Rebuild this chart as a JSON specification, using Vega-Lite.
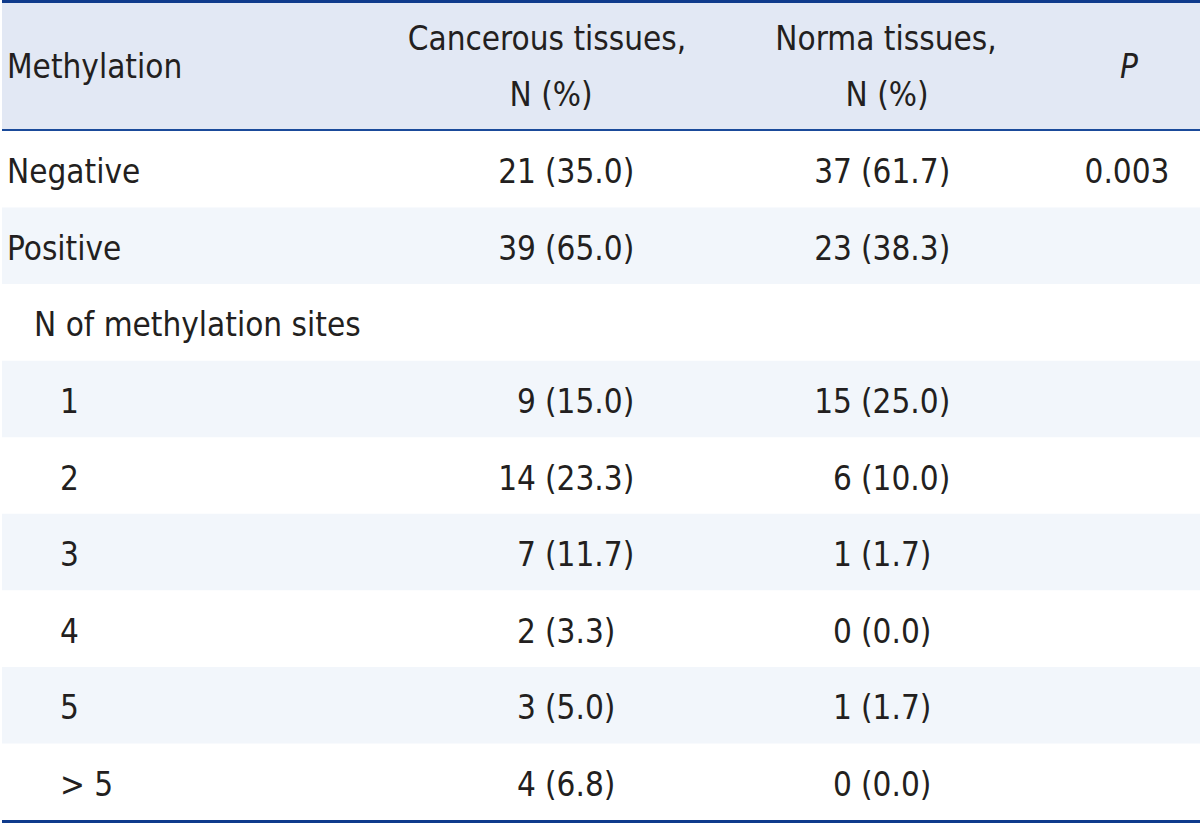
{
  "$schema": "https://vega.github.io/schema/vega-lite/v6.json",
  "padding": 0,
  "spacing": 0,
  "background": "white",
  "config": {
    "view": {"stroke": null},
    "concat": {"spacing": 0},
    "text": {"font": "DejaVu Sans Condensed, DejaVu Sans, sans-serif", "fontSize": 33, "color": "#231f20"}
  },
  "datasets": {
    "rows": [
      {"label": "Negative", "level": 0, "cancer_n": 21, "cancer_pct": 35.0, "normal_n": 37, "normal_pct": 61.7, "p": 0.003},
      {"label": "Positive", "level": 0, "cancer_n": 39, "cancer_pct": 65.0, "normal_n": 23, "normal_pct": 38.3, "p": null},
      {"label": "N of methylation sites", "level": 1, "cancer_n": null, "cancer_pct": null, "normal_n": null, "normal_pct": null, "p": null},
      {"label": "1", "level": 2, "cancer_n": 9, "cancer_pct": 15.0, "normal_n": 15, "normal_pct": 25.0, "p": null},
      {"label": "2", "level": 2, "cancer_n": 14, "cancer_pct": 23.3, "normal_n": 6, "normal_pct": 10.0, "p": null},
      {"label": "3", "level": 2, "cancer_n": 7, "cancer_pct": 11.7, "normal_n": 1, "normal_pct": 1.7, "p": null},
      {"label": "4", "level": 2, "cancer_n": 2, "cancer_pct": 3.3, "normal_n": 0, "normal_pct": 0.0, "p": null},
      {"label": "5", "level": 2, "cancer_n": 3, "cancer_pct": 5.0, "normal_n": 1, "normal_pct": 1.7, "p": null},
      {"label": "> 5", "level": 2, "cancer_n": 4, "cancer_pct": 6.8, "normal_n": 0, "normal_pct": 0.0, "p": null}
    ],
    "header": [
      {"col": "Methylation", "line": "single", "text": "Methylation"},
      {"col": "Cancerous", "line": "top", "text": "Cancerous tissues,"},
      {"col": "Cancerous", "line": "bottom", "text": "N (%)"},
      {"col": "Normal", "line": "top", "text": "Norma tissues,"},
      {"col": "Normal", "line": "bottom", "text": "N (%)"},
      {"col": "P", "line": "single", "text": "P"}
    ]
  },
  "vconcat": [
    {
      "width": 1200,
      "height": 131,
      "data": {"name": "header"},
      "layer": [
        {
          "data": {"values": [{}]},
          "mark": {"type": "rect", "fill": "#e2e8f4"},
          "encoding": {
            "x": {"datum": 0, "type": "quantitative", "scale": {"domain": [0, 1200], "nice": false}, "axis": null},
            "x2": {"datum": 1200},
            "y": {"datum": 0, "type": "quantitative", "scale": {"domain": [0, 131], "nice": false, "reverse": true}, "axis": null},
            "y2": {"datum": 131}
          }
        },
        {
          "data": {"values": [{}]},
          "mark": {"type": "rule", "stroke": "#0f3b8c", "strokeWidth": 3},
          "encoding": {
            "x": {"datum": 0, "type": "quantitative"},
            "x2": {"datum": 1200},
            "y": {"datum": 1.5, "type": "quantitative"}
          }
        },
        {
          "data": {"values": [{}]},
          "mark": {"type": "rule", "stroke": "#1a4a9a", "strokeWidth": 2},
          "encoding": {
            "x": {"datum": 0, "type": "quantitative"},
            "x2": {"datum": 1200},
            "y": {"datum": 130, "type": "quantitative"}
          }
        },
        {
          "transform": [{"filter": "datum.col == 'Methylation'"}],
          "mark": {"type": "text", "align": "left", "baseline": "alphabetic"},
          "encoding": {
            "x": {"datum": 5, "type": "quantitative"},
            "y": {"datum": 78, "type": "quantitative"},
            "text": {"field": "text"}
          }
        },
        {
          "transform": [{"filter": "datum.col == 'Cancerous' && datum.line == 'top'"}],
          "mark": {"type": "text", "align": "center", "baseline": "alphabetic"},
          "encoding": {
            "x": {"datum": 545, "type": "quantitative"},
            "y": {"datum": 50, "type": "quantitative"},
            "text": {"field": "text"}
          }
        },
        {
          "transform": [{"filter": "datum.col == 'Cancerous' && datum.line == 'bottom'"}],
          "mark": {"type": "text", "align": "center", "baseline": "alphabetic"},
          "encoding": {
            "x": {"datum": 549, "type": "quantitative"},
            "y": {"datum": 106, "type": "quantitative"},
            "text": {"field": "text"}
          }
        },
        {
          "transform": [{"filter": "datum.col == 'Normal' && datum.line == 'top'"}],
          "mark": {"type": "text", "align": "center", "baseline": "alphabetic"},
          "encoding": {
            "x": {"datum": 884, "type": "quantitative"},
            "y": {"datum": 50, "type": "quantitative"},
            "text": {"field": "text"}
          }
        },
        {
          "transform": [{"filter": "datum.col == 'Normal' && datum.line == 'bottom'"}],
          "mark": {"type": "text", "align": "center", "baseline": "alphabetic"},
          "encoding": {
            "x": {"datum": 885, "type": "quantitative"},
            "y": {"datum": 106, "type": "quantitative"},
            "text": {"field": "text"}
          }
        },
        {
          "transform": [{"filter": "datum.col == 'P'"}],
          "mark": {"type": "text", "align": "center", "baseline": "alphabetic", "fontStyle": "italic"},
          "encoding": {
            "x": {"datum": 1127, "type": "quantitative"},
            "y": {"datum": 78, "type": "quantitative"},
            "text": {"field": "text"}
          }
        }
      ]
    },
    {
      "width": 1200,
      "height": 689,
      "data": {"name": "rows"},
      "encoding": {
        "y": {
          "field": "label",
          "type": "nominal",
          "sort": null,
          "scale": {
            "domain": ["Negative", "Positive", "N of methylation sites", "1", "2", "3", "4", "5", "> 5"],
            "paddingInner": 0,
            "paddingOuter": 0
          },
          "axis": null
        }
      },
      "layer": [
        {
          "transform": [
            {"window": [{"op": "row_number", "as": "i"}]},
            {"filter": "datum.i % 2 == 0"}
          ],
          "mark": {"type": "rect", "fill": "#f2f6fb"},
          "encoding": {
            "x": {"datum": 0, "type": "quantitative", "scale": {"domain": [0, 1200], "nice": false}, "axis": null},
            "x2": {"datum": 1200}
          }
        },
        {
          "transform": [{"filter": "datum.level == 0"}],
          "mark": {"type": "text", "align": "left", "baseline": "middle", "dy": 4},
          "encoding": {
            "x": {"datum": 5, "type": "quantitative"},
            "text": {"field": "label"}
          }
        },
        {
          "transform": [{"filter": "datum.level == 1"}],
          "mark": {"type": "text", "align": "left", "baseline": "middle", "dy": 4},
          "encoding": {
            "x": {"datum": 32, "type": "quantitative"},
            "text": {"field": "label"}
          }
        },
        {
          "transform": [{"filter": "datum.level == 2"}],
          "mark": {"type": "text", "align": "left", "baseline": "middle", "dy": 4},
          "encoding": {
            "x": {"datum": 58, "type": "quantitative"},
            "text": {"field": "label"}
          }
        },
        {
          "transform": [{"filter": "datum.cancer_n != null"}],
          "mark": {"type": "text", "align": "right", "baseline": "middle", "dy": 4},
          "encoding": {
            "x": {"datum": 534, "type": "quantitative"},
            "text": {"field": "cancer_n", "type": "quantitative", "format": "d"}
          }
        },
        {
          "transform": [
            {"filter": "datum.cancer_pct != null"},
            {"calculate": "'(' + format(datum.cancer_pct, '.1f') + ')'", "as": "cancer_pct_txt"}
          ],
          "mark": {"type": "text", "align": "left", "baseline": "middle", "dy": 4},
          "encoding": {
            "x": {"datum": 543, "type": "quantitative"},
            "text": {"field": "cancer_pct_txt"}
          }
        },
        {
          "transform": [{"filter": "datum.normal_n != null"}],
          "mark": {"type": "text", "align": "right", "baseline": "middle", "dy": 4},
          "encoding": {
            "x": {"datum": 850, "type": "quantitative"},
            "text": {"field": "normal_n", "type": "quantitative", "format": "d"}
          }
        },
        {
          "transform": [
            {"filter": "datum.normal_pct != null"},
            {"calculate": "'(' + format(datum.normal_pct, '.1f') + ')'", "as": "normal_pct_txt"}
          ],
          "mark": {"type": "text", "align": "left", "baseline": "middle", "dy": 4},
          "encoding": {
            "x": {"datum": 859, "type": "quantitative"},
            "text": {"field": "normal_pct_txt"}
          }
        },
        {
          "transform": [{"filter": "datum.p != null"}],
          "mark": {"type": "text", "align": "center", "baseline": "middle", "dy": 4},
          "encoding": {
            "x": {"datum": 1125, "type": "quantitative"},
            "text": {"field": "p", "type": "quantitative", "format": ".3f"}
          }
        }
      ]
    },
    {
      "width": 1200,
      "height": 3,
      "data": {"values": [{}]},
      "mark": {"type": "rect", "fill": "#0f3b8c"},
      "encoding": {
        "x": {"datum": 0, "type": "quantitative", "scale": {"domain": [0, 1200], "nice": false}, "axis": null},
        "x2": {"datum": 1200},
        "y": {"datum": 0, "type": "quantitative", "scale": {"domain": [0, 1], "nice": false}, "axis": null},
        "y2": {"datum": 1}
      }
    }
  ]
}
